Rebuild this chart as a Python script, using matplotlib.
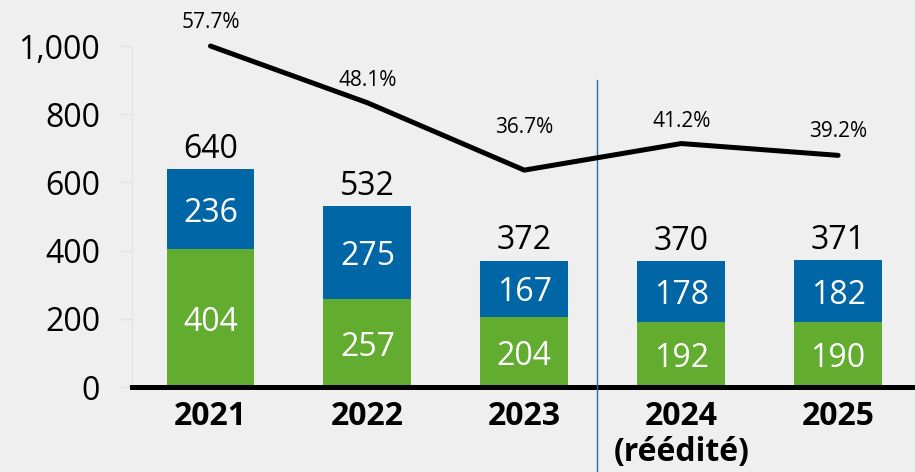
import numpy as np
import matplotlib.pyplot as plt

plt.rcParams['font.family'] = ['Open Sans', 'DejaVu Sans']

annees = ["2021", "2022", "2023", "2024\n(réédité)", "2025"]
vert = [404, 257, 204, 192, 190]
bleu = [236, 275, 167, 178, 182]
totaux = [640, 532, 372, 370, 371]
pourcent = [57.7, 48.1, 36.7, 41.2, 39.2]

c_vert = "#62AC2F"
c_bleu = "#0066A6"
fond = "#EFEFEF"

fig = plt.figure(figsize=(9.15, 4.72), dpi=100, facecolor=fond)
ax = fig.add_axes([0.1443, 0.180, 0.8557, 0.7225], facecolor=fond)

x = np.arange(len(annees))
larg = 0.56
ax.bar(x, vert, larg, color=c_vert, zorder=2)
ax.bar(x, bleu, larg, bottom=vert, color=c_bleu, zorder=2)

for i in range(len(x)):
    ax.text(x[i], vert[i] / 2, str(vert[i]), ha="center", va="center_baseline",
            color="white", fontsize=23)
    ax.text(x[i], vert[i] + bleu[i] / 2, str(bleu[i]), ha="center",
            va="center_baseline", color="white", fontsize=23)
    ax.annotate(str(totaux[i]), (x[i], totaux[i]), xytext=(0, 17),
                textcoords="offset points", ha="center", va="center_baseline",
                fontsize=23)

ax.set_xlim(-0.5, 4.49)
ax.set_ylim(0, 1000)
ax.set_yticks([0, 200, 400, 600, 800, 1000])
ax.set_yticklabels(["0", "200", "400", "600", "800", "1,000"])
ax.set_xticks(x)
ax.set_xticklabels(annees, fontsize=23, fontweight="bold", va="top", linespacing=1.15)
ax.tick_params(axis="x", length=0, pad=9)
ax.tick_params(axis="y", length=8, width=1, color="#E2E2E2", pad=15, labelsize=23)

for s in ["top", "right"]:
    ax.spines[s].set_visible(False)
ax.spines["left"].set_color("#E2E2E2")
ax.spines["bottom"].set_linewidth(3.6)
ax.spines["bottom"].set_color("black")
ax.spines["bottom"].set_zorder(3)

# séparateur entre 2023 et 2024
ax.plot([2.465, 2.465], [900, -260], color="#2A6EA6", lw=1, clip_on=False, zorder=4)

# ligne des pourcentages (axe secondaire caché)
ax2 = ax.twinx()
ax2.set_ylim(0, 57.7)
ax2.axis("off")
ax2.plot(x, pourcent, color="black", lw=3.6, solid_capstyle="round", clip_on=False)
decal = [17, 16, 31, 16, 17]
for i in range(len(x)):
    ax2.annotate(f"{pourcent[i]}%", (x[i], pourcent[i]), xytext=(0, decal[i]),
                 textcoords="offset points", ha="center", va="center", fontsize=15)

fig.savefig("out.png", dpi=100, facecolor=fond)
